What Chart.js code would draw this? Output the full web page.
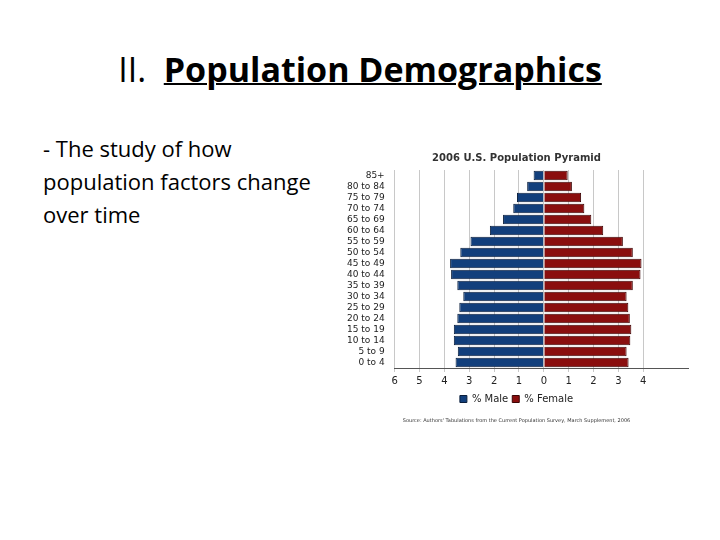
<!DOCTYPE html>
<html><head><meta charset="utf-8">
<script src="https://cdn.jsdelivr.net/npm/chart.js@4/dist/chart.umd.min.js"></script>
<style>
body{margin:0;width:720px;height:540px;background:#fff;position:relative;overflow:hidden;font-family:"Open Sans",sans-serif;}
#t{position:absolute;top:46px;left:0;width:720px;text-align:center;font-size:34px;color:#000;}
#t b{text-decoration:underline;text-decoration-thickness:2px;}
#b{position:absolute;left:43px;top:132px;font-size:22px;line-height:33px;color:#000;}
#c{position:absolute;left:345px;top:148px;width:345px;height:278px;}
</style></head><body>
<div id="t">II.&nbsp; <b>Population Demographics</b></div>
<div id="b">- The study of how<br>population factors change<br>over time</div>
<div id="c"><canvas id="cv"></canvas></div>
<script>
const ageGroups=["85+","80 to 84","75 to 79","70 to 74","65 to 69","60 to 64","55 to 59","50 to 54","45 to 49","40 to 44","35 to 39","30 to 34","25 to 29","20 to 24","15 to 19","10 to 14","5 to 9","0 to 4"];
const malePct=[0.41,0.67,1.08,1.23,1.64,2.17,2.95,3.36,3.77,3.73,3.48,3.24,3.40,3.48,3.62,3.62,3.46,3.55];
const femalePct=[0.96,1.13,1.50,1.63,1.91,2.39,3.18,3.58,3.93,3.89,3.58,3.33,3.40,3.46,3.52,3.48,3.33,3.41];
new Chart(document.getElementById('cv'),{type:'bar',
data:{labels:ageGroups,datasets:[
{label:'% Male',data:malePct.map(v=>-v),backgroundColor:'#123f7c',borderColor:'#0a1e3c',borderWidth:1,barPercentage:1,categoryPercentage:0.88},
{label:'% Female',data:femalePct,backgroundColor:'#8a0e0e',borderColor:'#3c0505',borderWidth:1,barPercentage:1,categoryPercentage:0.88}]},
options:{indexAxis:'y',responsive:true,maintainAspectRatio:false,animation:false,
layout:{padding:{left:0,right:2,top:0,bottom:0}},
plugins:{title:{display:true,text:'2006 U.S. Population Pyramid',color:'#333',font:{family:'DejaVu Sans',size:10,weight:'bold'},padding:{top:4,bottom:6}},
legend:{position:'bottom',labels:{boxWidth:7,boxHeight:7,font:{family:'DejaVu Sans',size:10},color:'#222',padding:4}},
subtitle:{display:true,position:'bottom',text:"Source: Authors' Tabulations from the Current Population Survey, March Supplement, 2006",font:{family:'DejaVu Sans',size:5},color:'#333',padding:{top:4,bottom:2}},
tooltip:{enabled:false}},
scales:{
x:{stacked:true,min:-6,max:5.8,afterBuildTicks:a=>{a.ticks=a.ticks.filter(t=>Number.isInteger(t.value));},
ticks:{stepSize:1,callback:v=>Math.abs(v),color:'#222',font:{family:'DejaVu Sans',size:10}},
grid:{color:'#c8c8c8',drawTicks:true,tickLength:4},border:{color:'#555'}},
y:{stacked:true,grid:{display:false},border:{display:false},ticks:{color:'#222',font:{family:'DejaVu Sans',size:9},padding:2,autoSkip:false}}}}});
</script></body></html>
